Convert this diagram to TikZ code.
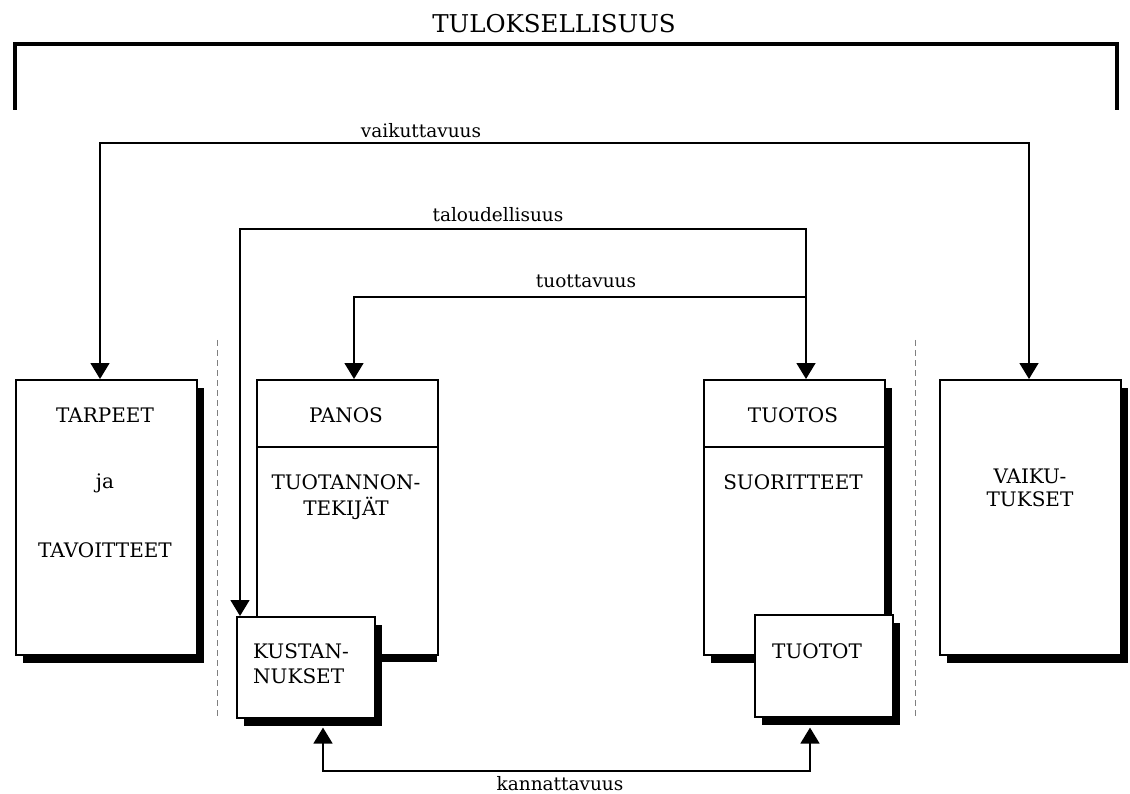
\documentclass[tikz,border=0pt]{standalone}
\usepackage{fontspec}
\setmainfont{DejaVu Serif}
\usetikzlibrary{arrows.meta,shadows,calc}
\tikzset{
  boxshape/.style={draw, line width=1.6pt, fill=white, inner sep=0pt, anchor=north west},
  shadowed/.style={general shadow={shadow xshift=7pt, shadow yshift=-8pt, fill=black}},
  conn/.style={line width=1.6pt},
  onearrow/.style={conn, -{Triangle[width=19pt,length=16pt]}},
  twoarrow/.style={conn, {Triangle[width=19pt,length=16pt]}-{Triangle[width=19pt,length=16pt]}},
  boxtext/.style={anchor=base, inner sep=0pt, font=\fontsize{20}{24}\selectfont},
  lbl/.style={anchor=base, inner sep=0pt, font=\fontsize{18.5}{22}\selectfont},
  sepline/.style={draw=gray, line width=1pt, dash pattern=on 6pt off 4pt}
}
\begin{document}
\begin{tikzpicture}[x=1pt, y=-1pt]
\useasboundingbox[fill=white] (0,0) rectangle (1130,794);

% title and bracket
\node[anchor=base, inner sep=0pt, font=\fontsize{24.5}{28}\selectfont] (title) at (554,33) {TULOKSELLISUUS};
\draw[line width=3.5pt, line join=miter] (15,110) -- (15,44) -- (1117,44) -- (1117,110);

% dashed separators
\draw[sepline] (217,340) -- (217,717);
\draw[sepline] (915,340) -- (915,717);

% boxes
\node[boxshape, shadowed, minimum width=181pt, minimum height=275pt] (tarpeet) at (15,379) {};
\fill (263,654) rectangle (437,662);
\node[boxshape, minimum width=181pt, minimum height=275pt] (panos) at (256,379) {};
\draw[line width=1.6pt] (panos.west |- 0,447) -- (panos.east |- 0,447);
\node[boxshape, shadowed, minimum width=181pt, minimum height=275pt] (tuotos) at (703,379) {};
\draw[line width=1.6pt] (tuotos.west |- 0,447) -- (tuotos.east |- 0,447);
\node[boxshape, shadowed, minimum width=181pt, minimum height=275pt] (vaik) at (939,379) {};
\node[boxshape, shadowed, minimum width=138pt, minimum height=101pt] (kust) at (236,616) {};
\node[boxshape, shadowed, minimum width=138pt, minimum height=102pt] (tuotot) at (754,614) {};

% box texts
\node[boxtext] (t1) at (105,422) {TARPEET};
\node[boxtext] (t2) at (105,488) {ja};
\node[boxtext] (t3) at (105,557) {TAVOITTEET};
\node[boxtext] (p1) at (346,422) {PANOS};
\node[boxtext] (p2) at (346,489) {TUOTANNON-};
\node[boxtext] (p3) at (346,515) {TEKIJÄT};
\node[boxtext, anchor=base west] (k1) at (253,658) {KUSTAN-};
\node[boxtext, anchor=base west] (k2) at (253,683) {NUKSET};
\node[boxtext] (o1) at (793,422) {TUOTOS};
\node[boxtext] (o2) at (793,489) {SUORITTEET};
\node[boxtext] (o3) at (817,658) {TUOTOT};
\node[boxtext] (v1) at (1030,483) {VAIKU-};
\node[boxtext] (v2) at (1030,506) {TUKSET};

% connector bends
\coordinate (vk1) at (100,143);
\coordinate (vk2) at (1029,143);
\coordinate (tl1) at (240,229);
\coordinate (tl2) at (806,229);
\coordinate (tv1) at (354,297);
\coordinate (tv2) at (806,297);
\coordinate (ka1) at (323,771);
\coordinate (ka2) at (810,771);

% connectors
\draw[twoarrow] (tarpeet.north -| vk1) -- (vk1) -- (vk2) -- (vk2 |- vaik.north);
\draw[twoarrow] (kust.north -| tl1) -- (tl1) -- (tl2) -- (tl2 |- tuotos.north);
\draw[onearrow] (tv2) -- (tv1) -- (tv1 |- panos.north);
\draw[twoarrow] ($(kust.south -| ka1)+(0,9)$) -- (ka1) -- (ka2) -- ($(tuotot.south -| ka2)+(0,10)$);

% connector labels
\node[lbl] (lv) at (421,138) {vaikuttavuus};
\node[lbl] (lt) at (498,222) {taloudellisuus};
\node[lbl] (lu) at (586,288) {tuottavuus};
\node[lbl] (lk) at (560,790) {kannattavuus};
\end{tikzpicture}
\end{document}
